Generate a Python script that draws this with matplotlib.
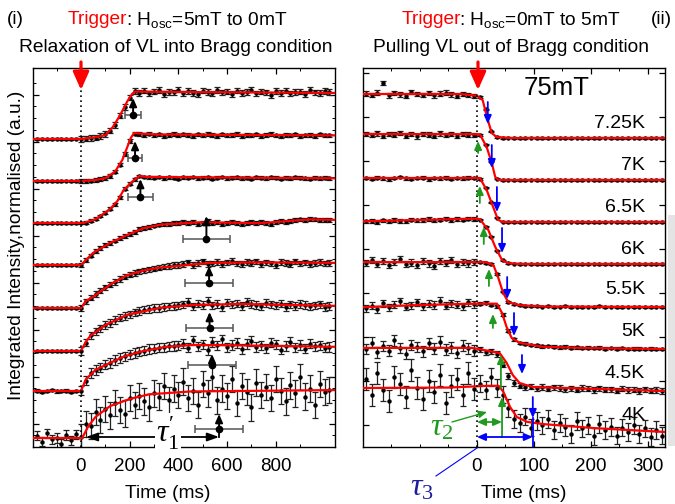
import numpy as np
import matplotlib
matplotlib.use("Agg")
import matplotlib.pyplot as plt
from matplotlib.patches import Rectangle, FancyArrowPatch

plt.rcParams['font.family'] = ['Liberation Sans', 'DejaVu Sans']
plt.rcParams['mathtext.fontset'] = 'custom'
plt.rcParams['mathtext.rm'] = 'Liberation Serif'
plt.rcParams['mathtext.it'] = 'Liberation Serif:italic'

# ---------------- data: panel (i) relaxation (normalised intensity, %) ----------------
left_times = np.arange(-180, 1021, 20)   # ms sampling grid
L1 = [0,1,-1,0,1,0,-1,0,1,0, 1,2,3,6,10,18,30,50,68,88,102,
      98,103,97,101,104,96,100,99,105,97,102,98,95,103,100,97,104,99,101,96,
      103,98,100,105,97,101,99,94,102,98,103,97,100,101,96,104,99,98,102,100]
L2 = [0,0,1,0,-1,0,1,0,0,0, 0,1,2,4,6,11,20,35,58,85,101,
      100,98,101,97,99,96,98,100,97,99,98,96,99,97,100,98,95,99,97,98,
      100,96,98,97,99,96,98,100,97,95,98,97,99,96,97,98,96,99,97,97]
L3 = [0,0,-1,0,1,0,0,-1,0,0, 1,5,9,15,22,30,40,55,73,84,93,100,
      98,97,96,98,95,97,96,94,97,96,98,95,96,97,94,96,98,95,96,97,
      95,96,94,97,96,95,97,96,94,96,95,97,96,95,94,96,95,96,95]
L4 = [0,0,0,1,0,-1,0,0,1,0, 10,20,30,36,42,47,52,58,62,66,71,76,79,81,84,86,87,88,89,90,
      91,89,92,88,90,93,89,91,88,90,92,89,87,90,91,89,92,90,88,91,93,92,94,95,97,96,98,97,95,96,96]
L5 = [0,1,0,0,-1,0,0,1,0,0, 14,22,30,37,44,50,56,62,67,71,74,78,80,82,84,86,88,89,91,92,
      94,97,92,96,99,93,95,98,94,97,100,95,93,98,96,99,94,97,95,92,98,96,94,99,95,97,93,96,98,95,96]
L6 = [0,0,1,0,0,-1,0,1,0,0, 18,33,42,48,55,60,66,71,75,78,82,85,88,89,91,92,94,95,96,97,
      99,104,95,101,98,106,97,100,93,103,99,101,96,104,100,98,95,102,99,97,101,94,99,96,100,98,95,97,99,94,96]
L7 = [1,-2,0,2,-1,0,1,-2,0,1, 22,38,45,50,56,60,66,70,74,78,81,84,86,89,90,92,93,95,96,97,
      101,92,108,95,99,87,104,97,110,93,98,102,89,100,106,94,97,91,103,99,88,96,105,93,98,90,101,95,97,92,94]
L8 = [5,-8,10,-3,0,-12,6,-5,8,2, 30,25,55,38,62,48,75,60,52,85,70,90,78,65,95,88,110,80,105,92,
      120,85,100,70,115,95,130,80,105,90,125,75,110,98,65,118,92,108,85,125,100,78,112,95,130,88,105,70,115,98,102]
left_data = [L1, L2, L3, L4, L5, L6, L7, L8]
left_err = [(2, 6), (2, 4), (1.5, 3), (2, 4), (2, 6), (2, 8), (3, 10), (10, 28)]   # % (pre, post)

# fitted curves (time ms, normalised value)
LF_t = [[-200,0,50,100,130,160,190,210,222,400,1050],
        [-200,0,60,100,140,170,190,205,218,300,1050],
        [-200,10,60,120,150,175,210,240,270,1050],
        [-200,0,15,50,120,190,255,330,490,735,940,1050],
        [-200,0,20,50,120,190,260,325,530,750,1050],
        [-200,0,20,40,100,190,325,460,650,1050],
        [-200,0,20,60,120,180,255,350,460,650,1050],
        [-200,5,30,60,120,200,280,450,1050]]
LF_v = [[0,0,0.03,0.08,0.25,0.5,0.8,0.96,1.01,1.0,0.98],
        [0,0,0.02,0.06,0.2,0.45,0.72,0.92,1.02,0.99,0.97],
        [0,0,0.08,0.3,0.47,0.7,0.88,1.0,0.98,0.95],
        [0,0,0.08,0.26,0.47,0.64,0.78,0.86,0.91,0.89,0.97,0.96],
        [0,0,0.15,0.24,0.5,0.7,0.8,0.86,0.96,0.97,0.96],
        [0,0,0.2,0.33,0.55,0.77,0.92,0.98,1.0,0.96],
        [0,0,0.25,0.45,0.6,0.74,0.85,0.94,0.98,0.97,0.94],
        [0,0,0.25,0.45,0.68,0.83,0.93,0.99,1.02]]
tau1 = [214, 222, 244, 515, 526, 528, 538, 567]       # ms
tau1_err = [33, 29, 51, 96, 99, 96, 99, 99]           # ms

# ---------------- data: panel (ii) pulling out (75 mT) ----------------
right_times = np.arange(-195, 326, 10)
temps = ["7.25K", "7K", "6.5K", "6K", "5.5K", "5K", "4.5K", "4K"]
R1 = [101,98,103,125,97,102,99,96,104,100,98,102,97,101,103,99,96,100,98,95,
      93,65,15,2,0,1,0,-1,0,1,0,0,-1,0,1,0,0,1,0,-1,0,0,1,0,0,-1,0,1,0,0,0,1,0]
R2 = [104,102,106,100,105,103,107,101,104,99,105,103,101,106,102,104,100,105,103,102,
      102,80,42,3,0,1,-1,0,0,1,0,-1,0,0,1,0,0,-1,0,1,0,0,0,-1,0,1,0,0,-1,0,0,1,0]
R3 = [100,98,101,99,97,100,102,99,98,100,101,97,100,99,101,98,100,99,101,100,
      98,78,45,10,1,0,0,-1,0,1,0,0,0,-1,0,0,1,0,0,0,-1,0,0,1,0,0,0,-1,0,0,1,0,0]
R4 = [97,98,96,99,97,100,98,97,101,99,100,102,99,101,103,100,102,101,103,102,
      101,85,62,30,8,2,1,0,1,0,0,-1,0,0,1,0,0,0,-1,0,1,0,0,0,0,-1,0,1,0,0,0,0,0]
R5 = [100,106,97,104,95,103,110,98,101,96,105,99,93,104,100,107,97,102,99,103,
      103,100,98,75,35,12,6,4,3,2,3,1,2,0,1,2,0,1,0,1,0,2,0,1,0,0,1,0,1,0,0,1,0]
R6 = [93,98,90,104,95,101,108,96,99,106,97,103,100,110,98,104,101,97,106,102,
      103,105,100,97,78,42,22,14,12,9,8,6,7,5,4,5,3,4,2,3,2,3,1,2,1,2,0,1,1,0,1,0,0]
R7 = [95,110,88,102,92,115,98,85,105,100,90,108,96,112,94,99,87,103,97,92,
      95,88,90,84,60,34,18,12,8,10,6,9,5,8,7,4,6,3,7,5,2,6,3,4,1,5,2,3,0,4,1,2,0]
R8 = [120,85,135,95,70,125,110,80,140,100,75,115,90,130,65,105,120,85,135,98,
      110,95,125,100,85,55,30,20,35,10,25,15,30,5,20,12,-5,25,8,15,-10,18,5,12,-8,10,0,15,-5,8,-12,5,-8]
right_data = [R1, R2, R3, R4, R5, R6, R7, R8]
right_err = [(5, 1.5), (5, 1.5), (3, 1.5), (4, 1.5), (7, 2), (8, 3), (12, 6), (25, 20)]

RF_t = [[-200,-30,0,10,19,26,35,60,330],
        [-200,5,17,26,32,38,330],
        [-200,5,17,29,37,45,330],
        [-200,-100,0,5,20,32,44,54,80,330],
        [-200,15,29,37,46,55,75,120,330],
        [-200,-100,0,35,44,52,61,75,116,200,330],
        [-200,-10,5,40,52,63,75,98,146,330],
        [-200,-50,20,38,46,58,70,88,116,204,330]]
RF_v = [[1.0,1.0,0.96,0.86,0.41,0.11,0.02,0,0],
        [1.045,1.04,0.75,0.39,0.07,0,0],
        [1.0,1.0,0.73,0.32,0.05,0,0],
        [0.97,1.0,1.03,1.02,0.77,0.39,0.09,0.02,0,0],
        [1.02,1.02,0.95,0.68,0.32,0.11,0.04,0.01,0],
        [0.95,1.0,1.03,1.03,0.82,0.5,0.25,0.14,0.05,0.02,0],
        [0.98,0.98,0.95,0.86,0.64,0.36,0.18,0.09,0.07,0],
        [1.0,1.01,1.05,1.05,0.92,0.57,0.34,0.23,0.18,0.09,0]]
tau2 = [None, 2, 5, 12, 21, 28, 42, 44]     # ms (green)
tau3 = [19, 26, 35, 44, 53, 65, 79, 98]     # ms (blue)

# ---------------- layout (pixel geometry) ----------------
W, H = 675, 504
AX_TOP, AX_BOT = 68, 447
L_UNIT, R_UNIT = 47.0, 44.0
left_base_px = [139, 181, 223, 265, 308, 351, 391, 438]
right_low_px = [138, 180, 222, 264, 307, 349, 391, 432]
tau1_marker_px = [115, 158, 197, 239, 283, 328, 365, 429]
tau1_top_px = [98, 141, 179, 216, 266, 312, 354, 414]
g_from = [None, 153, 203, 244, 286, 328, 388, 437]
g_to = [None, 141, 186, 227, 269, 314, 355, 397]
b_from = [102, 145, 187, 228, 277, 313, 355, 397]
b_to = [124, 168, 212, 253, 299, 336, 374, 418]
temp_y_px = [123, 165, 207, 250, 290, 332, 373, 415]

def FX(x): return x / W
def FY(y): return 1 - y / H
def yL(px): return (AX_BOT - px) / L_UNIT
def yR(px): return (AX_BOT - px) / R_UNIT

RED = '#ff0000'
GREEN = '#1f9a1f'
BLUE = '#0000ff'
NAVY = '#1c1c9c'
FS = 13.8

def arrow(ax, p_from, p_to, color, lw=1.3, style='-|>,head_length=0.5,head_width=0.22', ms=10):
    ax.annotate('', xy=p_to, xytext=p_from,
                arrowprops=dict(arrowstyle=style, color=color, lw=lw, mutation_scale=ms,
                                shrinkA=0, shrinkB=0), zorder=6)

fig = plt.figure(figsize=(W / 100, H / 100), dpi=100)
axL = fig.add_axes([FX(33), FY(AX_BOT), 302 / W, (AX_BOT - AX_TOP) / H])
axR = fig.add_axes([FX(363), FY(AX_BOT), 302 / W, (AX_BOT - AX_TOP) / H])

for ax in (axL, axR):
    for s in ax.spines.values():
        s.set_linewidth(1.0)
    ax.tick_params(direction='in', top=True, right=True, which='both', labelsize=13.5, pad=8)
    ax.tick_params(which='major', length=4, width=0.9)
    ax.tick_params(which='minor', length=2, width=0.7)

axL.set_xlim(-197, 1043)
axL.set_ylim(0, (AX_BOT - AX_TOP) / L_UNIT)
axL.set_xticks([0, 200, 400, 600, 800])
axL.set_xticks([-100, 100, 300, 500, 700, 900], minor=True)
axL.set_yticks(np.arange(0.5, 8.0, 1.0))
axL.set_yticks(np.arange(0.0, 8.0, 0.25), minor=True)
axL.set_yticklabels([])

axR.set_xlim(-200, 330)
axR.set_ylim(0, (AX_BOT - AX_TOP) / R_UNIT)
axR.set_xticks([0, 100, 200, 300])
axR.set_xticks([-150, -100, -50, 50, 150, 250], minor=True)
axR.set_yticks(np.arange(0.5, 8.6, 1.0))
axR.set_yticklabels([])

EB = dict(fmt='o', ms=2.2, mfc='k', mec='k', ecolor='#222222', elinewidth=0.9,
          capsize=1.9, capthick=0.9, zorder=2)

# ---- panel (i) ----
for i in range(8):
    base = yL(left_base_px[i])
    vals = np.array(left_data[i]) / 100.0
    e = np.where(left_times < 0, left_err[i][0], left_err[i][1]) / 100.0
    axL.errorbar(left_times, base + vals, yerr=e, **EB)
    axL.plot(LF_t[i], base + np.array(LF_v[i]), color=RED, lw=1.6, zorder=3)
    ym = yL(tau1_marker_px[i])
    axL.errorbar([tau1[i]], [ym], xerr=[tau1_err[i]], fmt='o', ms=4.5, mfc='k', mec='k',
                 ecolor='#555555', elinewidth=1.1, capsize=3, capthick=1.1, zorder=5)
    arrow(axL, (tau1[i], ym), (tau1[i], yL(tau1_top_px[i])), 'k', lw=1.4)

axL.plot([0, 0], [0, yL(90)], ls=(0, (1, 2)), color='k', lw=1.2, zorder=4)
# tau1' bracket on the bottom trace
yb = yL(437)
axL.plot([tau1[7], tau1[7]], [yb, yL(tau1_marker_px[7])], color='k', lw=1.3, zorder=5)
arrow(axL, (20, yb), (tau1[7], yb), 'k', lw=1.3, style='<|-|>,head_length=0.7,head_width=0.25')
fig.text(FX(168), FY(433), r"$\tau_{1}^{\prime}$", fontsize=23, ha='center', va='center',
         bbox=dict(facecolor='white', edgecolor='none', pad=1.0), zorder=10)

# ---- panel (ii) ----
for i in range(8):
    base = yR(right_low_px[i])
    vals = np.array(right_data[i]) / 100.0
    e = np.where(right_times < 0, right_err[i][0], right_err[i][1]) / 100.0
    axR.errorbar(right_times, base + vals, yerr=e, **EB)
    axR.plot(RF_t[i], base + np.array(RF_v[i]), color=RED, lw=1.6, zorder=3)
    if tau2[i] is not None:
        arrow(axR, (tau2[i], yR(g_from[i])), (tau2[i], yR(g_to[i])), GREEN)
    arrow(axR, (tau3[i], yR(b_from[i])), (tau3[i], yR(b_to[i])), BLUE)
    fig.text(FX(645), FY(temp_y_px[i]), temps[i], fontsize=14, ha='right', va='center')

axR.plot([0, 0], [0, yR(92)], ls=(0, (1, 2)), color='k', lw=1.2, zorder=4)
axR.plot([tau3[7], tau3[7]], [0, yR(418)], color=BLUE, lw=1.3, zorder=6)
arrow(axR, (0, yR(422)), (tau2[7], yR(422)), GREEN, style='<|-|>,head_length=0.5,head_width=0.22')
arrow(axR, (0, yR(437)), (tau3[7], yR(437)), BLUE, style='<|-|>,head_length=0.5,head_width=0.22')
fig.text(FX(442), FY(428), r"$\tau_2$", fontsize=23, color=GREEN, ha='center', va='center')
fig.add_artist(FancyArrowPatch((FX(452), FY(422)), (FX(487), FY(412)),
                               transform=fig.transFigure, arrowstyle='-|>,head_length=0.5,head_width=0.22',
                               color=GREEN, lw=1.0, mutation_scale=10, shrinkA=0, shrinkB=0, zorder=8))
fig.text(FX(422), FY(488), r"$\tau_3$", fontsize=23, color=NAVY, ha='center', va='center')
fig.add_artist(plt.Line2D([FX(436), FX(477)], [FY(476), FY(448)], color=BLUE, lw=0.8,
                          transform=fig.transFigure))
fig.text(FX(557), FY(88), "75mT", fontsize=18.5, ha='center', va='center')

# red trigger arrows
for x in (81, 478):
    fig.add_artist(FancyArrowPatch((FX(x), FY(62)), (FX(x), FY(90)), transform=fig.transFigure,
                                   arrowstyle='-|>,head_length=0.9,head_width=0.4',
                                   color=RED, lw=2.3, mutation_scale=12,
                                   shrinkA=0, shrinkB=0, zorder=10))

# ---- titles & labels ----
renderer = fig.canvas.get_renderer()

def two_part(x, y, s1, s2, size):
    t1 = fig.text(FX(x), FY(y), s1, color=RED, fontsize=size, ha='left', va='center')
    bb = t1.get_window_extent(renderer=renderer)
    fig.text((bb.x1 - 2) / W, FY(y), s2, color='k', fontsize=size, ha='left', va='center')

two_part(68, 20, "Trigger", r": H$\mathregular{_{osc}}$=5mT to 0mT", FS)
two_part(402, 20, "Trigger", r": H$\mathregular{_{osc}}$=0mT to 5mT", FS)
fig.text(FX(7), FY(19), "(i)", fontsize=FS, ha='left', va='center')
fig.text(FX(651), FY(19), "(ii)", fontsize=FS, ha='left', va='center')
fig.text(FX(176), FY(48), "Relaxation of VL into Bragg condition", fontsize=FS,
         ha='center', va='center')
fig.text(FX(511), FY(48), "Pulling VL out of Bragg condition", fontsize=FS,
         ha='center', va='center')
fig.text(FX(17), FY(245), "Integrated Intensity,normalised (a.u.)", fontsize=FS,
         rotation=90, ha='center', va='center')
fig.text(FX(168), FY(494), "Time (ms)", fontsize=FS, ha='center', va='center')
fig.text(FX(524), FY(494), "Time (ms)", fontsize=FS, ha='center', va='center')

# cropped neighbouring panel at the right edge
fig.add_artist(Rectangle((FX(668), FY(446)), FX(675) - FX(668), (446 - 215) / H,
                         transform=fig.transFigure, facecolor='#e4e4e4', edgecolor='none'))

fig.savefig("out.png", dpi=100)
